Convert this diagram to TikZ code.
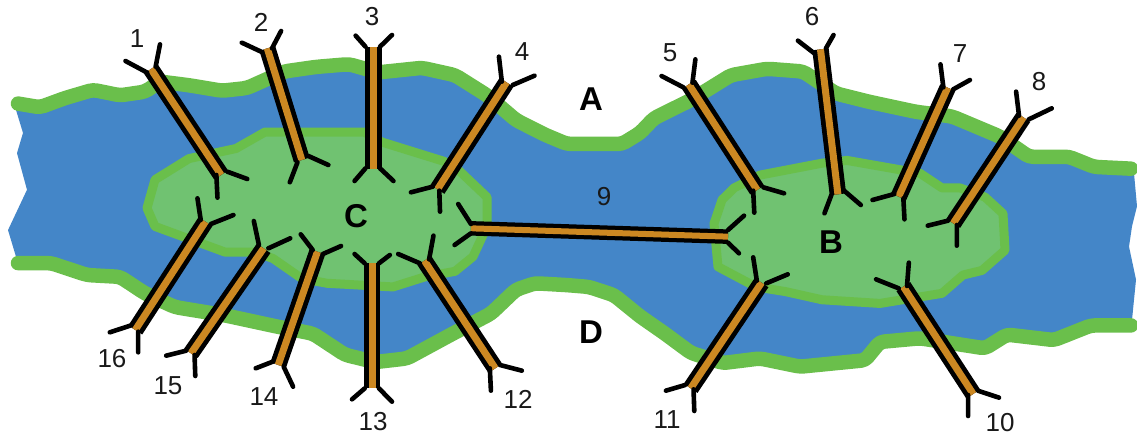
\documentclass[tikz,border=0pt]{standalone}
\usepackage{fontspec}
\setmainfont{Liberation Sans}
\definecolor{water}{HTML}{4486C8}
\definecolor{bank}{HTML}{6ABF4B}
\definecolor{isle}{HTML}{70C271}
\definecolor{wood}{HTML}{CC8822}
\tikzset{
  numlabel/.style={font=\fontsize{26}{26}\selectfont,text=black!90,inner sep=0pt},
  letlabel/.style={font=\fontsize{33}{33}\selectfont\bfseries,text=black,inner sep=0pt},
  bankline/.style={draw=bank,line width=14.5pt,line cap=round,line join=round,rounded corners=4pt},
  islandshape/.style={draw=bank,fill=isle,line width=9pt,line join=round},
  wing/.style={draw=black,line width=4.6pt,line cap=round},
  zoomA/.style={x=0.36364pt,y=-0.33333pt},
  zoomB/.style={x=0.36364pt,y=-0.33333pt,xshift=567pt},
  realm/.style={x=1pt,y=-0.9167pt}
}
% outer end, inner end, then the four wings (corner -- tip)
\newcommand{\bridgeshape}[3]{%
  \draw[line width=16.5pt,black] (#1) -- (#2);
  \draw[line width=7pt,wood] (#1) -- (#2);
  \draw[wing] #3;
}
\begin{document}
\begin{tikzpicture}[x=1pt,y=-1pt]
\useasboundingbox (0,0) rectangle (1137,436);
\begin{scope}[realm]
\fill[water] (16,120) -- (23,145) -- (17,167) -- (27,207) -- (8,251) -- (16,280) -- (18,287)
  -- (51,287) -- (87,300) -- (120,302) -- (145,320) -- (175,335) -- (225,344) -- (276,356)
  -- (313,364) -- (345,387) -- (375,395) -- (407,391) -- (451,365) -- (491,342) -- (516,316)
  -- (535,309) -- (567,311) -- (589,313) -- (614,322) -- (640,345) -- (665,364) -- (691,385)
  -- (723,396) -- (760,391) -- (800,400) -- (865,393) -- (880,373) -- (920,369) -- (985,380)
  -- (1007,365) -- (1054,371) -- (1091,355) -- (1132,355) -- (1132,349) -- (1136,305)
  -- (1129,269) -- (1132,247) -- (1137,225) -- (1134,189) -- (1131,184) -- (1094,182)
  -- (1069,171) -- (1029,171) -- (1000,149) -- (952,127) -- (916,122) -- (869,111) -- (836,102)
  -- (803,78) -- (767,75) -- (731,82) -- (691,109) -- (654,129) -- (640,145) -- (622,157)
  -- (567,157) -- (545,147) -- (516,131) -- (487,104) -- (455,82) -- (422,74) -- (378,79)
  -- (349,70) -- (316,73) -- (284,78) -- (247,96) -- (222,99) -- (189,93) -- (160,89)
  -- (145,100) -- (120,104) -- (93,98) -- (65,107) -- (40,117) -- (18,113) -- cycle;
\draw[bankline] (18,113) -- (40,117) -- (65,107) -- (93,98) -- (120,104) -- (145,100) -- (160,89)
  -- (189,93) -- (222,99) -- (247,96) -- (284,78) -- (316,73) -- (349,70) -- (378,79) -- (422,74)
  -- (455,82) -- (487,104) -- (516,131) -- (545,147) -- (567,157) -- (622,157) -- (640,145)
  -- (654,129) -- (691,109) -- (731,82) -- (767,75) -- (803,78) -- (836,102) -- (869,111)
  -- (916,122) -- (952,127) -- (1000,149) -- (1029,171) -- (1069,171) -- (1094,182) -- (1131,184);
\draw[bankline] (18,287) -- (51,287) -- (87,300) -- (120,302) -- (145,320) -- (175,335) -- (225,344)
  -- (276,356) -- (313,364) -- (345,387) -- (375,395) -- (407,391) -- (451,365) -- (491,342)
  -- (516,316) -- (535,309) -- (567,311) -- (589,313) -- (614,322) -- (640,345) -- (665,364)
  -- (691,385) -- (723,396) -- (760,391) -- (800,400) -- (865,393) -- (880,373) -- (920,369)
  -- (985,380) -- (1007,365) -- (1054,371) -- (1091,355) -- (1131,355);
\draw[islandshape] (155,196) -- (147,227) -- (155,247) -- (225,275) -- (255,275) -- (273,282)
  -- (302,304) -- (327,309) -- (393,313) -- (425,302) -- (455,296) -- (473,280) -- (487,247)
  -- (487,215) -- (458,185) -- (444,176) -- (382,155) -- (364,144) -- (320,144) -- (265,144)
  -- (236,162) -- (189,173) -- cycle;
\draw[islandshape] (722,218) -- (714,244) -- (718,291) -- (756,313) -- (785,318) -- (822,327)
  -- (880,331) -- (942,320) -- (963,300) -- (982,295) -- (1005,273) -- (1003,233) -- (985,215)
  -- (960,205) -- (942,205) -- (920,189) -- (847,175) -- (822,178) -- (760,191) -- (734,205) -- cycle;
\end{scope}
\begin{scope}[zoomA]
\bridgeshape{415,207}{608,525}{(405,218)--(345,183) (428,200)--(440,133) (595,525)--(598,593) (625,515)--(680,537)}
\bridgeshape{735,145}{830,480}{(718,155)--(665,128) (748,145)--(773,93) (818,487)--(797,547) (848,468)--(903,495)}
\bridgeshape{1027,142}{1027,507}{(1005,140)--(978,107) (1045,140)--(1078,105) (1005,505)--(975,543) (1045,505)--(1082,543)}
\bridgeshape{1393,247}{1203,568}{(1380,245)--(1372,170) (1410,255)--(1470,227) (1190,560)--(1130,577) (1208,572)--(1210,635)}
\bridgeshape{1362,1105}{1167,782}{(1347,1105)--(1350,1172) (1375,1095)--(1435,1112) (1155,790)--(1095,762) (1180,778)--(1192,707)}
\bridgeshape{1023,1165}{1023,790}{(1003,1165)--(968,1198) (1042,1165)--(1078,1205) (1003,790)--(975,762) (1042,790)--(1072,765)}
\bridgeshape{765,1095}{873,755}{(750,1085)--(703,1105) (780,1100)--(806,1160) (860,750)--(827,703) (888,762)--(938,738)}
\bridgeshape{525,1060}{725,745}{(512,1052)--(457,1067) (535,1065)--(537,1128) (712,735)--(698,663) (738,745)--(798,715)}
\bridgeshape{372,990}{565,665}{(358,977)--(302,997) (380,995)--(380,1057) (552,660)--(543,595) (580,672)--(642,645)}
% bridge 9
\draw[line width=14.5pt,black] (1295,685) -- (2002,710);
\draw[line width=6pt,wood] (1295,685) -- (2002,710);
\draw[wing] (1295,672)--(1260,612) (1295,700)--(1250,735) (2002,690)--(2046,647) (2002,728)--(2032,760);
\end{scope}
\begin{scope}[zoomB]
\bridgeshape{335,253}{523,570}{(320,262)--(260,228) (345,248)--(353,178) (512,572)--(515,638) (540,562)--(597,580)}
\bridgeshape{697,148}{745,583}{(680,160)--(635,122) (712,145)--(733,105) (727,585)--(708,640) (762,572)--(808,615)}
\bridgeshape{1047,263}{912,590}{(1035,262)--(1027,193) (1062,268)--(1108,240) (900,582)--(840,600) (925,595)--(928,658)}
\bridgeshape{1255,352}{1062,670}{(1243,347)--(1235,275) (1270,358)--(1333,325) (1048,662)--(992,677) (1072,675)--(1072,737)}
\bridgeshape{1117,1182}{925,860}{(1103,1185)--(1103,1248) (1130,1172)--(1188,1193) (912,865)--(850,838) (935,858)--(940,788)}
\bridgeshape{340,1165}{535,848}{(325,1155)--(272,1172) (348,1168)--(350,1233) (522,842)--(512,772) (548,850)--(607,823)}
\end{scope}
\node[numlabel] (n1) at (137,39) {1};
\node[numlabel] (n2) at (261,22) {2};
\node[numlabel] (n3) at (372,17) {3};
\node[numlabel] (n4) at (522,52) {4};
\node[numlabel] (n5) at (670,53) {5};
\node[numlabel] (n6) at (812,17) {6};
\node[numlabel] (n7) at (960,54) {7};
\node[numlabel] (n8) at (1039,82) {8};
\node[numlabel] (n9) at (604,197) {9};
\node[numlabel] (n10) at (1000,423) {10};
\node[numlabel] (n11) at (667,420) {11};
\node[numlabel] (n12) at (518,399) {12};
\node[numlabel] (n13) at (373,422) {13};
\node[numlabel] (n14) at (264,397) {14};
\node[numlabel] (n15) at (168,386) {15};
\node[numlabel] (n16) at (112,359) {16};
\node[letlabel] (la) at (591,99) {A};
\node[letlabel] (lb) at (831,242) {B};
\node[letlabel] (lc) at (356,216) {C};
\node[letlabel] (ld) at (591,332) {D};
\end{tikzpicture}
\end{document}
